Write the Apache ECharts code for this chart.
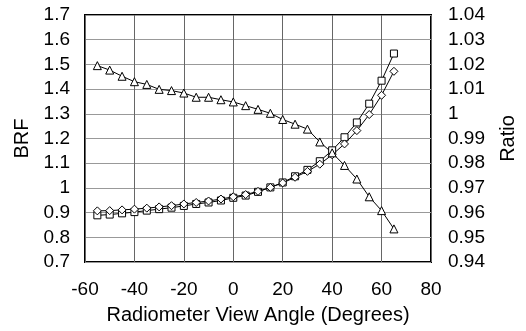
<!DOCTYPE html>
<html>
<head>
<meta charset="utf-8">
<script src="https://cdn.jsdelivr.net/npm/echarts@6/dist/echarts.min.js"></script>
<style>html,body{margin:0;padding:0;background:#fff}#c{width:526px;height:331px}</style>
</head>
<body>
<div id="c"></div>
<script>
// View angles (degrees)
const angles = [-55,-50,-45,-40,-35,-30,-25,-20,-15,-10,-5,0,5,10,15,20,25,30,35,40,45,50,55,60,65];
// BRF, square markers
const brfSquare = [0.889,0.892,0.897,0.902,0.908,0.914,0.920,0.927,0.935,0.941,0.949,0.960,0.969,0.984,1.002,1.022,1.047,1.073,1.108,1.152,1.205,1.265,1.341,1.434,1.544];
// BRF, diamond markers
const brfDiamond = [0.907,0.908,0.911,0.914,0.918,0.923,0.928,0.935,0.941,0.947,0.955,0.964,0.973,0.986,1.002,1.020,1.043,1.067,1.096,1.134,1.178,1.232,1.297,1.375,1.472];
// Ratio, triangle markers (right axis)
const ratio = [1.0195,1.0177,1.0152,1.0130,1.0119,1.0099,1.0094,1.0084,1.0067,1.0067,1.0057,1.0048,1.0033,1.0018,1.0002,0.9977,0.9958,0.9938,0.9886,0.9842,0.9791,0.9736,0.9664,0.9608,0.9534];

// Axis tick settings
const xTicks = {min: -60, max: 80, interval: 20};
const brfTicks = {min: 0.7, max: 1.7, interval: 0.1};
const ratioTicks = {min: 0.94, max: 1.04, interval: 0.01};

const font = "'Liberation Sans', Arial, Helvetica, sans-serif";
const fmt = v => String(+(+v).toFixed(3));
const toPairs = ys => angles.map((x, i) => [x, ys[i]]);

const chart = echarts.init(document.getElementById('c'), null, {renderer: 'canvas'});
chart.setOption({
  animation: false,
  backgroundColor: '#fff',
  grid: {left: 85, right: 90, top: 15, bottom: 69, show: true, borderColor: '#000', borderWidth: 2, backgroundColor: 'transparent'},
  xAxis: {
    type: 'value', min: xTicks.min, max: xTicks.max, interval: xTicks.interval,
    name: 'Radiometer View Angle (Degrees)', nameLocation: 'middle', nameGap: 43,
    nameTextStyle: {fontFamily: font, fontSize: 20, color: '#000'},
    axisLine: {show: false}, axisTick: {show: false},
    axisLabel: {fontFamily: font, fontSize: 19, color: '#000', margin: 18, formatter: fmt},
    splitLine: {show: true, lineStyle: {color: '#666', width: 1}}
  },
  yAxis: [{
    type: 'value', min: brfTicks.min, max: brfTicks.max, interval: brfTicks.interval,
    name: 'BRF', nameLocation: 'middle', nameGap: 53, nameRotate: 90,
    nameTextStyle: {fontFamily: font, fontSize: 20, color: '#000'},
    axisLine: {show: false}, axisTick: {show: false},
    axisLabel: {fontFamily: font, fontSize: 19, color: '#000', margin: 15, formatter: fmt},
    splitLine: {show: true, lineStyle: {color: '#999', width: 1}}
  }, {
    type: 'value', min: ratioTicks.min, max: ratioTicks.max, interval: ratioTicks.interval,
    name: 'Ratio', nameLocation: 'middle', nameGap: 67, nameRotate: 90,
    nameTextStyle: {fontFamily: font, fontSize: 20, color: '#000'},
    axisLine: {show: false}, axisTick: {show: false},
    axisLabel: {fontFamily: font, fontSize: 19, color: '#000', margin: 17, formatter: fmt},
    splitLine: {show: false}
  }],
  series: [{
    type: 'line', yAxisIndex: 0, data: toPairs(brfSquare),
    symbol: 'rect', symbolSize: 7,
    lineStyle: {color: '#000', width: 1},
    itemStyle: {color: '#fff', borderColor: '#000', borderWidth: 1}
  }, {
    type: 'line', yAxisIndex: 0, data: toPairs(brfDiamond),
    symbol: 'diamond', symbolSize: 8,
    lineStyle: {color: '#000', width: 1},
    itemStyle: {color: '#fff', borderColor: '#000', borderWidth: 1}
  }, {
    type: 'line', yAxisIndex: 1, data: toPairs(ratio),
    symbol: 'triangle', symbolSize: 8,
    lineStyle: {color: '#000', width: 1},
    itemStyle: {color: '#fff', borderColor: '#000', borderWidth: 1}
  }]
});
</script>
</body>
</html>
